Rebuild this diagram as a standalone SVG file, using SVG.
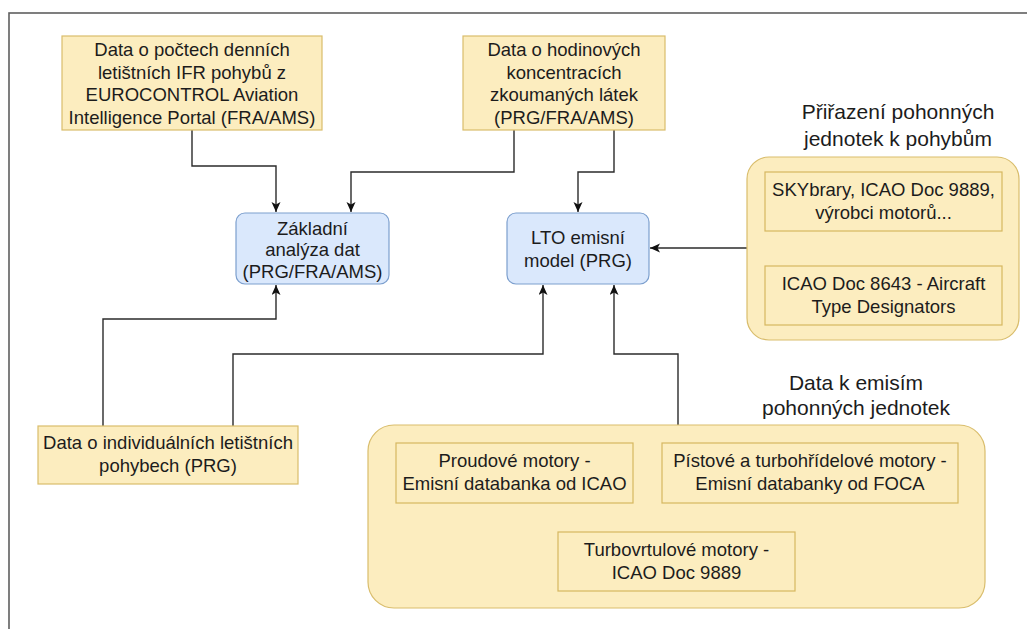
<svg xmlns="http://www.w3.org/2000/svg" width="1027" height="629" viewBox="0 0 1027 629">
  <style>
    .frame { fill: #ffffff; stroke: #5f5f5f; stroke-width: 1.6; }
    .yel { fill: #fcedbf; stroke: #d9bd6c; stroke-width: 1.2; }
    .inner { fill: #fcedbf; stroke: #d6b760; stroke-width: 1.2; }
    .blue { fill: #dae8fc; stroke: #7c9fce; stroke-width: 1.2; }
    .t { font-family: "Liberation Sans", Arial, sans-serif; font-size: 18.5px; fill: #1c1c1c; text-anchor: middle; }
    .lbl { font-family: "Liberation Sans", Arial, sans-serif; font-size: 21px; fill: #1c1c1c; text-anchor: middle; }
    .conn { fill: none; stroke: #2b2b2b; stroke-width: 1.4; }
  </style>
  <defs>
    <marker id="arr" markerUnits="userSpaceOnUse" markerWidth="12" markerHeight="10" refX="10" refY="4.5" orient="auto">
      <path d="M0,0 L10,4.5 L0,9 L2.5,4.5 Z" fill="#111111"/>
    </marker>
  </defs>

  <rect class="frame" x="9" y="13" width="1030" height="630"/>

  <g id="connectors">
    <path class="conn" d="M192,130 V166 H276 V212" marker-end="url(#arr)"/>
    <path class="conn" d="M514,130 V172 H351 V212" marker-end="url(#arr)"/>
    <path class="conn" d="M614,130 V172 H578 V212" marker-end="url(#arr)"/>
    <path class="conn" d="M747,248 H650" marker-end="url(#arr)"/>
    <path class="conn" d="M103,426 V319 H276 V285" marker-end="url(#arr)"/>
    <path class="conn" d="M233,426 V354 H543 V285" marker-end="url(#arr)"/>
    <path class="conn" d="M678,425 V354 H614 V285" marker-end="url(#arr)"/>
  </g>

  <g id="node-pocty">
    <rect class="yel" x="62" y="36" width="260" height="94"/>
    <text class="t" x="192" y="56">Data o počtech denních</text>
    <text class="t" x="192" y="78.5">letištních IFR pohybů z</text>
    <text class="t" x="192" y="101">EUROCONTROL Aviation</text>
    <text class="t" x="192" y="123.5">Intelligence Portal (FRA/AMS)</text>
  </g>

  <g id="node-koncentrace">
    <rect class="yel" x="463" y="36" width="202" height="94"/>
    <text class="t" x="564" y="56">Data o hodinových</text>
    <text class="t" x="564" y="78.5">koncentracích</text>
    <text class="t" x="564" y="101">zkoumaných látek</text>
    <text class="t" x="564" y="123.5">(PRG/FRA/AMS)</text>
  </g>

  <g id="node-zakladni">
    <rect class="blue" x="236" y="213" width="153" height="71" rx="9"/>
    <text class="t" x="312.5" y="234.5">Základní</text>
    <text class="t" x="312.5" y="256">analýza dat</text>
    <text class="t" x="312.5" y="277.5">(PRG/FRA/AMS)</text>
  </g>

  <g id="node-lto">
    <rect class="blue" x="507" y="213" width="142" height="71" rx="9"/>
    <text class="t" x="578" y="244">LTO emisní</text>
    <text class="t" x="578" y="267">model (PRG)</text>
  </g>

  <g id="node-prirazeni">
    <text class="lbl" x="898" y="119">Přiřazení pohonných</text>
    <text class="lbl" x="898" y="146">jednotek k pohybům</text>
    <rect class="yel" x="747" y="157" width="272" height="183" rx="22"/>
    <g id="node-skybrary">
      <rect class="inner" x="765" y="172" width="237" height="59"/>
      <text class="t" x="883.5" y="195.5">SKYbrary, ICAO Doc 9889,</text>
      <text class="t" x="883.5" y="218.5">výrobci motorů...</text>
    </g>
    <g id="node-doc8643">
      <rect class="inner" x="765" y="266" width="237" height="59"/>
      <text class="t" x="883.5" y="289.5">ICAO Doc 8643 - Aircraft</text>
      <text class="t" x="883.5" y="312.5">Type Designators</text>
    </g>
  </g>

  <g id="node-individualni">
    <rect class="yel" x="38" y="426" width="260" height="58"/>
    <text class="t" x="168" y="449">Data o individuálních letištních</text>
    <text class="t" x="168" y="472">pohybech (PRG)</text>
  </g>

  <g id="node-emise">
    <text class="lbl" x="856" y="390">Data k emisím</text>
    <text class="lbl" x="856" y="415">pohonných jednotek</text>
    <rect class="yel" x="368" y="425" width="617" height="183" rx="26"/>
    <g id="node-proudove">
      <rect class="inner" x="396" y="443" width="237" height="60"/>
      <text class="t" x="514.5" y="467">Proudové motory -</text>
      <text class="t" x="514.5" y="490">Emisní databanka od ICAO</text>
    </g>
    <g id="node-pistove">
      <rect class="inner" x="662" y="443" width="296" height="60"/>
      <text class="t" x="810" y="467">Pístové a turbohřídelové motory -</text>
      <text class="t" x="810" y="490">Emisní databanky od FOCA</text>
    </g>
    <g id="node-turbovrtulove">
      <rect class="inner" x="558" y="532" width="237" height="59"/>
      <text class="t" x="676.5" y="555.5">Turbovrtulové motory -</text>
      <text class="t" x="676.5" y="578.5">ICAO Doc 9889</text>
    </g>
  </g>
</svg>
